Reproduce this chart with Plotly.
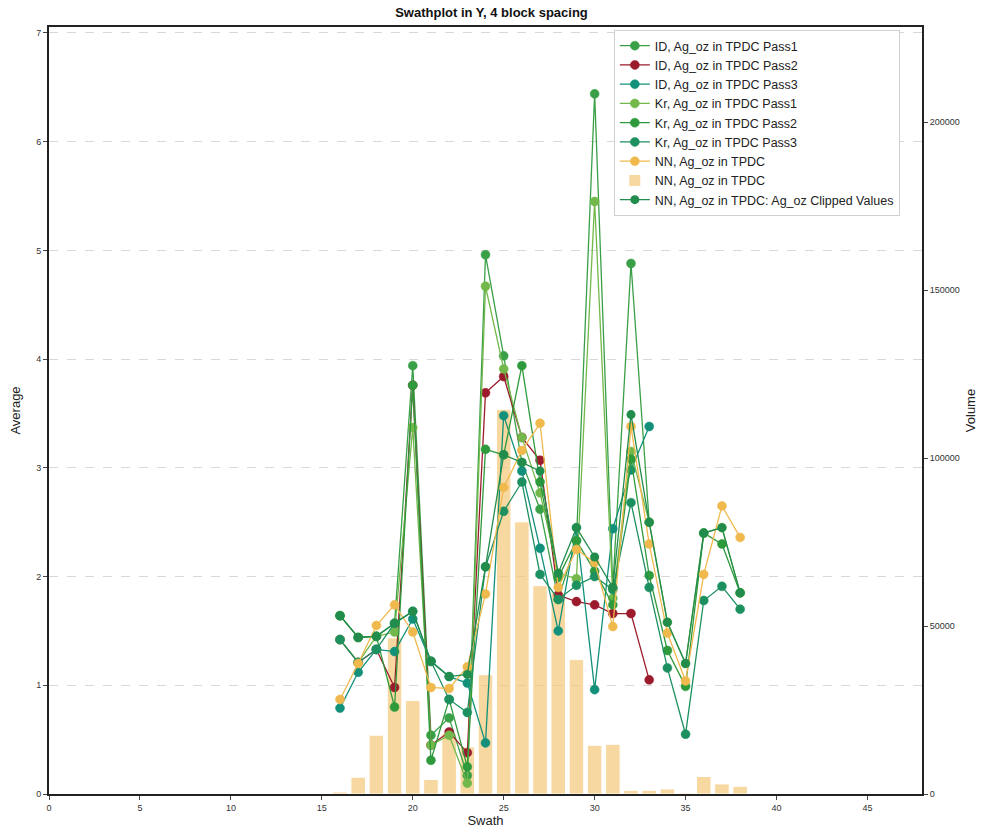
import plotly.graph_objects as go

swath = list(range(16, 39))
swath_id = list(range(16, 34))

id_pass1 = [1.64, 1.44, 1.45, 1.57, 3.94, 0.54, 0.70, 0.17, 4.96, 4.03, 3.05, 2.62, 1.79, 2.33, 6.44, 1.90, 4.88, 2.50]
id_pass2 = [1.42, 1.21, 1.33, 0.98, 3.76, 0.45, 0.57, 0.38, 3.69, 3.84, 3.28, 3.07, 1.83, 1.77, 1.74, 1.66, 1.66, 1.05]
id_pass3 = [0.79, 1.12, 1.33, 1.31, 1.61, 1.22, 1.08, 1.02, 0.47, 3.48, 2.97, 2.26, 1.50, 2.45, 0.96, 2.44, 2.98, 3.38]
kr_pass1 = [1.42, 1.21, 1.45, 1.49, 3.37, 0.45, 0.54, 0.10, 4.67, 3.91, 3.28, 2.77, 2.03, 1.98, 5.45, 1.80, 3.15, 2.50,
            1.58, 1.20, 2.40, 2.45, 1.85]
kr_pass2 = [1.64, 1.44, 1.45, 0.80, 3.76, 0.31, 0.87, 0.25, 3.17, 3.12, 3.94, 2.87, 1.99, 2.33, 2.05, 1.74, 3.08, 2.01,
            1.32, 0.99, 2.40, 2.30, 1.85]
kr_pass3 = [1.42, 1.21, 1.33, 1.57, 1.68, 1.22, 0.87, 0.75, 2.09, 2.60, 2.87, 2.02, 1.79, 1.92, 2.00, 1.88, 2.68, 1.90,
            1.16, 0.55, 1.78, 1.91, 1.70]
nn_avg = [0.87, 1.20, 1.55, 1.74, 1.49, 0.98, 0.97, 1.17, 1.84, 2.82, 3.16, 3.41, 1.90, 2.25, 2.13, 1.54, 3.38, 2.30,
          1.48, 1.04, 2.02, 2.65, 2.36]
nn_clipped = [1.64, 1.44, 1.45, 1.57, 1.68, 1.22, 1.08, 1.10, 2.09, 3.12, 3.05, 2.97, 2.03, 2.45, 2.18, 1.90, 3.49, 2.50,
              1.58, 1.20, 2.40, 2.45, 1.85]
nn_volume = [600, 5000, 17500, 46500, 27800, 4300, 18000, 14000, 35500, 114500, 81000, 62000, 60000, 40000, 14500, 14800,
             1100, 1100, 1500, 300, 5200, 3000, 2300]

x_ticks = [0, 5, 10, 15, 20, 25, 30, 35, 40, 45]
avg_ticks = [0, 1, 2, 3, 4, 5, 6, 7]
vol_ticks = [0, 50000, 100000, 150000, 200000]

line_series = [
    ("ID, Ag_oz in TPDC Pass1", swath_id, id_pass1, "#3aa048"),
    ("ID, Ag_oz in TPDC Pass2", swath_id, id_pass2, "#9b1b2c"),
    ("ID, Ag_oz in TPDC Pass3", swath_id, id_pass3, "#12907a"),
    ("Kr, Ag_oz in TPDC Pass1", swath, kr_pass1, "#72b84a"),
    ("Kr, Ag_oz in TPDC Pass2", swath, kr_pass2, "#2e9a3c"),
    ("Kr, Ag_oz in TPDC Pass3", swath, kr_pass3, "#1d9060"),
    ("NN, Ag_oz in TPDC", swath, nn_avg, "#f0b94e"),
]

fig = go.Figure()
for name, xs, ys, col in line_series:
    fig.add_trace(go.Scatter(
        x=xs, y=ys, name=name, mode="lines+markers", yaxis="y2",
        line=dict(color=col, width=1.3),
        marker=dict(color=col, size=9, line=dict(color=col, width=0.5)),
    ))

fig.add_trace(go.Bar(
    x=swath, y=nn_volume, name="NN, Ag_oz in TPDC", yaxis="y",
    marker=dict(color="rgba(243,200,120,0.7)", line=dict(color="white", width=1)),
    width=0.8,
))

fig.add_trace(go.Scatter(
    x=swath, y=nn_clipped, name="NN, Ag_oz in TPDC: Ag_oz Clipped Values", mode="lines+markers", yaxis="y2",
    line=dict(color="#228c4c", width=1.3),
    marker=dict(color="#228c4c", size=9),
))

axis_font = dict(family="Liberation Sans, Arial, sans-serif", size=9, color="#333")

fig.update_layout(
    width=983, height=828,
    margin=dict(l=49, r=61, t=27, b=34),
    paper_bgcolor="white", plot_bgcolor="white",
    font=dict(family="Liberation Sans, Arial, sans-serif", size=12, color="#222"),
    title=dict(text="<b>Swathplot in Y, 4 block spacing</b>", x=0.5, xref="container", xanchor="center",
               y=0.985, yref="container", yanchor="middle", font=dict(size=13, color="#111")),
    showlegend=True,
    legend=dict(x=0.647, y=0.996, xanchor="left", yanchor="top", bgcolor="white",
                bordercolor="#d0d0d0", borderwidth=1, font=dict(size=12.5, color="#222"),
                traceorder="normal", tracegroupgap=0),
    bargap=0.2,
    xaxis=dict(range=[0, 48], tickvals=x_ticks, showgrid=False, zeroline=False, automargin=False,
               showline=True, linecolor="#222", linewidth=2, mirror=True,
               ticks="outside", ticklen=4, tickcolor="#444", tickfont=axis_font,
               title=dict(text="Swath", font=dict(size=13, color="#222"), standoff=3)),
    yaxis=dict(range=[0, 228300], tickvals=vol_ticks, tickformat="d", side="right", automargin=False,
               showgrid=False, zeroline=False, showline=True, linecolor="#222", linewidth=2,
               ticks="outside", ticklen=4, tickcolor="#444", tickfont=axis_font,
               title=dict(text="Volume", font=dict(size=13, color="#222"), standoff=7)),
    yaxis2=dict(range=[0, 7.055], tickvals=avg_ticks, overlaying="y", side="left", automargin=False,
                showgrid=True, gridcolor="#d8d8d8", griddash="dash", gridwidth=1, zeroline=False,
                showline=True, linecolor="#222", linewidth=2,
                ticks="outside", ticklen=4, tickcolor="#444", tickfont=axis_font,
                title=dict(text="Average", font=dict(size=13, color="#222"), standoff=13)),
)

fig.write_html("out.html")
